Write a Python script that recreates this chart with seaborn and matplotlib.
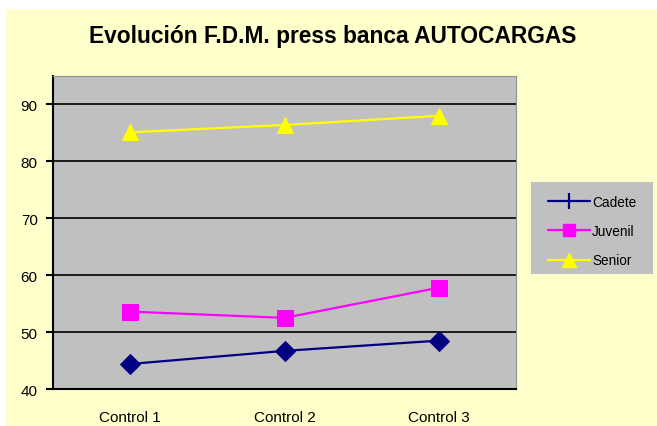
import pandas as pd
import matplotlib.pyplot as plt
import seaborn as sns
from matplotlib import font_manager
from matplotlib.lines import Line2D
from matplotlib.patches import Rectangle

# datos
controles = ['Control 1', 'Control 2', 'Control 3']
cadete = [44.4, 46.7, 48.5]
juvenil = [53.6, 52.5, 57.8]
senior = [85.1, 86.4, 88.0]

df = pd.DataFrame({
    'control': controles * 3,
    'valor': cadete + juvenil + senior,
    'serie': ['Cadete'] * 3 + ['Juvenil'] * 3 + ['Senior'] * 3,
})
df['x'] = df['control'].map({c: i for i, c in enumerate(controles)})

colores = {'Cadete': '#000080', 'Juvenil': '#FF00FF', 'Senior': '#FFFF00'}
marcas = {'Cadete': 'D', 'Juvenil': 's', 'Senior': '^'}
tamanos = {'Cadete': 10, 'Juvenil': 11, 'Senior': 12}

sns.set_style('white')
plt.rcParams['font.family'] = ['Liberation Sans', 'DejaVu Sans']
plt.rcParams['text.color'] = 'black'

# fuente estrecha (tipo Arial Narrow) si existe
nombres = {f.name for f in font_manager.fontManager.ttflist}
estrecha = None
for n in ['Liberation Sans Narrow', 'DejaVu Sans Condensed', 'Arial Narrow']:
    if n in nombres:
        estrecha = n
        break
fam_estrecha = [estrecha, 'Liberation Sans'] if estrecha else ['Liberation Sans']

fig = plt.figure(figsize=(6.57, 4.27), dpi=100)
fig.patch.set_facecolor('white')
fig.add_artist(Rectangle((5 / 657, 0), 1, (427 - 10) / 427, transform=fig.transFigure,
                         facecolor='#FFFFCC', edgecolor='none', zorder=0))

ax = fig.add_axes([53 / 657, 37 / 427, 463 / 657, 313 / 427])
ax.set_facecolor('#C0C0C0')

for s in ['Cadete', 'Juvenil', 'Senior']:
    sub = df[df['serie'] == s]
    sns.lineplot(data=sub, x='x', y='valor', ax=ax, color=colores[s], marker=marcas[s],
                 markersize=tamanos[s], markeredgecolor=colores[s], linewidth=1.6,
                 legend=False, zorder=3)

ax.set_ylim(40, 95)
ax.set_yticks(range(40, 91, 10))
ax.set_xlim(-0.5, 2.5)
ax.set_xticks([0, 1, 2])
ax.set_xticklabels(controles)
ax.tick_params(axis='x', length=0, pad=15, labelsize=11, labelcolor='black')
ax.set_xticks([-0.5, 0.5, 1.5, 2.5], minor=True)
ax.tick_params(axis='x', which='minor', length=5, width=1.5, color='black', direction='out')
ax.tick_params(axis='y', length=5, width=1.5, color='black', direction='out', labelsize=11,
               labelcolor='black', left=True, pad=6)
ax.grid(axis='y', color='black', linewidth=1.2)
ax.set_axisbelow(True)
ax.set_xlabel('')
ax.set_ylabel('')
for lado in ['left', 'bottom']:
    ax.spines[lado].set_color('black')
    ax.spines[lado].set_linewidth(1.5)
for lado in ['top', 'right']:
    ax.spines[lado].set_color('#909090')
    ax.spines[lado].set_linewidth(0.8)

titulo = fig.text(333 / 657, 1 - 37 / 427, 'Evolución F.D.M. press banca AUTOCARGAS',
                  ha='center', va='center', fontsize=18, fontweight='bold',
                  family=fam_estrecha + ['DejaVu Sans'], color='black')
# ajustar el ancho del titulo al de la referencia (~489 px)
fig.canvas.draw()
ancho = titulo.get_window_extent().width
titulo.set_fontsize(18 * 489 / ancho)

# recuadro de la leyenda
fig.add_artist(Rectangle((531 / 657, 1 - 275 / 427), 122 / 657, 92 / 427,
                         transform=fig.transFigure, facecolor='#C0C0C0', edgecolor='none', zorder=1))

handles = [
    Line2D([], [], color='#000080', marker='|', markersize=11, markeredgewidth=1.6, linewidth=1.6),
    Line2D([], [], color='#FF00FF', marker='s', markersize=9, linewidth=1.6),
    Line2D([], [], color='#FFFF00', marker='^', markersize=10, linewidth=1.6),
]
tam_leyenda = 11 if estrecha else 9.8
leg = fig.legend(handles, ['Cadete', 'Juvenil', 'Senior'],
                 loc='upper left', bbox_to_anchor=(548 / 657, 1 - 196 / 427),
                 frameon=False, borderpad=0, borderaxespad=0,
                 handlelength=42 / (tam_leyenda * 100 / 72), handletextpad=0.15,
                 labelspacing=1.12, prop={'family': fam_estrecha, 'size': tam_leyenda})
leg.set_zorder(2)

plt.savefig('out.png', dpi=100)
